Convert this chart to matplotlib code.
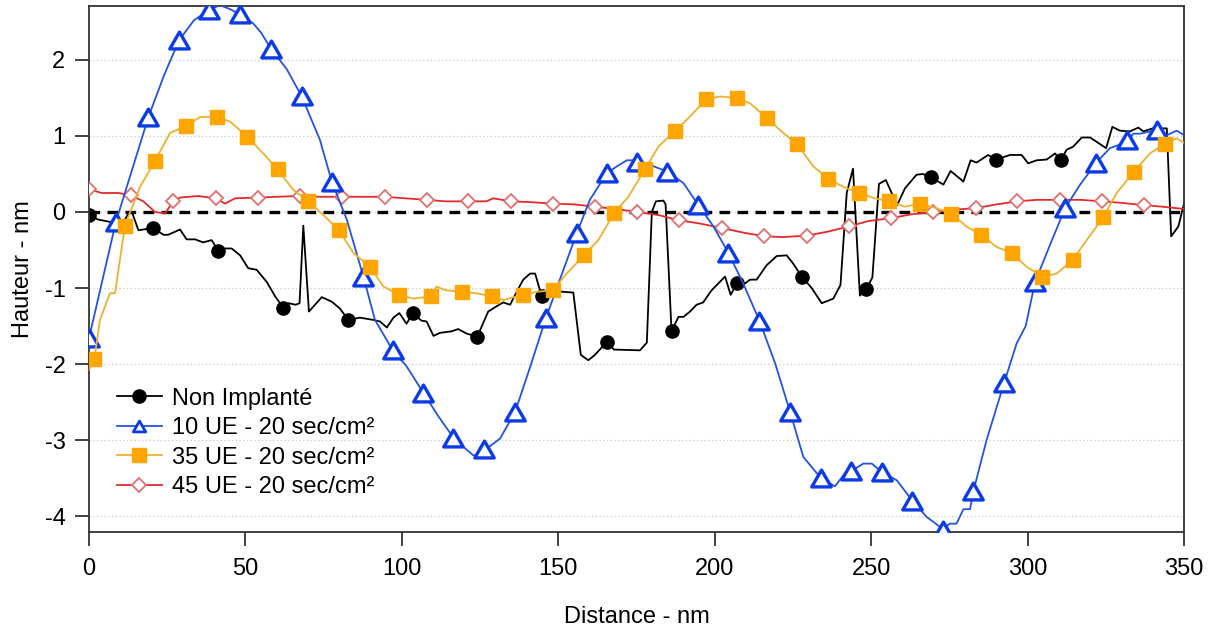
import matplotlib
matplotlib.use("Agg")
import matplotlib.pyplot as plt
from matplotlib.lines import Line2D
from matplotlib.path import Path

plt.rcParams['font.family'] = ['Liberation Sans', 'DejaVu Sans']

# ---------------- data ----------------
black_x = [0, 3.0, 6.7, 10.5, 12.6, 13.8, 15.8, 20.6, 23.8, 25.3, 29.1, 31.2, 33.9, 36.5, 39.2,
           41.3, 43.5, 45.6, 48.3, 50.9, 53.6, 56.8, 59.5, 62.1, 63.7, 66.1, 67.3, 68.5, 70.3,
           74.4, 77.6, 80.2, 82.9, 86.6, 90.9, 93.0, 95.2, 97.3, 99.2, 101.5, 103.5, 106.3,
           107.9, 110.1, 112.2, 115.9, 118.0, 120.7, 124.1, 127.6, 130.3, 132.4, 134.6, 136.7,
           138.8, 141.0, 142.6, 144.7, 146.8, 151.6, 154.8, 157.2, 159.6, 161.7, 165.5, 167.8,
           176.1, 178.3, 179.9, 181.2, 183.6, 184.3, 186.2, 188.4, 190.0, 192.1, 194.2, 196.3,
           199.0, 203.3, 205.1, 207.0, 209.7, 211.3, 213.4, 216.6, 219.8, 223.0, 225.1, 227.8,
           231.0, 234.2, 237.9, 240.2, 242.2, 244.2, 246.4, 248.5, 250.4, 252.5, 254.7, 258.3,
           260.8, 264.5, 266.5, 269.1, 273.1, 275.4, 279.5, 281.8, 283.7, 287.4, 289.9, 294.4,
           298.1, 300.2, 302.9, 306.1, 308.8, 310.6, 312.5, 314.6, 317.3, 320.0, 325.1, 327.1,
           329.5, 332.7, 335.4, 337.0, 340.0, 344.5, 345.9, 348.2, 350.0]
black_y = [-0.04, -0.10, -0.13, -0.17, -0.02, -0.01, -0.24, -0.21, -0.30, -0.30, -0.23, -0.36,
           -0.36, -0.40, -0.37, -0.51, -0.48, -0.48, -0.57, -0.74, -0.76, -0.92, -1.11, -1.26,
           -1.20, -1.22, -1.20, -0.18, -1.31, -1.12, -1.18, -1.27, -1.42, -1.39, -1.42, -1.44,
           -1.52, -1.39, -1.33, -1.47, -1.33, -1.43, -1.44, -1.63, -1.59, -1.57, -1.54, -1.60,
           -1.64, -1.31, -1.24, -1.19, -1.22, -1.05, -0.89, -0.81, -0.81, -1.11, -1.03, -1.05,
           -1.06, -1.88, -1.95, -1.88, -1.71, -1.81, -1.82, -1.72, 0.00, 0.14, 0.15, 0.10,
           -1.57, -1.38, -1.38, -1.31, -1.22, -1.19, -1.03, -0.85, -1.09, -0.94, -0.94, -0.89,
           -0.89, -0.70, -0.58, -0.57, -0.68, -0.85, -1.00, -1.20, -1.14, -0.96, 0.25, 0.57,
           -1.10, -1.01, -0.86, 0.37, 0.42, 0.09, 0.31, 0.49, 0.50, 0.46, 0.36, 0.54, 0.40,
           0.68, 0.65, 0.75, 0.69, 0.75, 0.75, 0.64, 0.68, 0.69, 0.77, 0.68, 0.82, 0.86, 0.98,
           0.98, 0.84, 1.12, 1.07, 1.06, 1.11, 1.06, 1.10, 1.10, -0.32, -0.19, 0.11]
black_mk_x = [0, 20.6, 41.3, 62.1, 82.9, 103.5, 124.1, 144.7, 165.5, 186.2, 207.0, 227.8,
              248.5, 269.1, 289.9, 310.6]
black_mk_y = [-0.04, -0.21, -0.51, -1.26, -1.42, -1.33, -1.64, -1.11, -1.71, -1.57, -0.94,
              -0.85, -1.01, 0.46, 0.69, 0.68]

blue_x = [0, 8.6, 19.0, 24.0, 28.8, 33.5, 38.4, 41.9, 45.0, 48.3, 52.5, 55.0, 58.1, 63.2, 68.0,
          73.8, 77.6, 82.4, 87.7, 91.4, 97.1, 101.5, 106.9, 111.7, 116.5, 120.5, 122.8, 124.5,
          126.3, 131.4, 136.2, 141.0, 146.0, 150.5, 155.9, 160.1, 165.5, 168.7, 171.9, 175.1,
          179.3, 184.9, 190.0, 194.8, 199.6, 204.4, 209.1, 214.3, 219.3, 224.1, 228.3, 233.9,
          236.9, 238.4, 241.6, 243.6, 247.5, 250.2, 253.4, 258.2, 263.2, 267.7, 272.9, 275.2,
          277.3, 279.5, 281.6, 282.7, 286.9, 292.5, 296.5, 299.4, 302.4, 307.2, 312.0, 316.8,
          321.8, 326.3, 331.7, 333.8, 336.0, 341.3, 344.5, 347.7, 350.0]
blue_y = [-1.66, -0.13, 1.25, 1.80, 2.26, 2.52, 2.66, 2.72, 2.67, 2.60, 2.48, 2.36, 2.15, 1.88,
          1.52, 0.95, 0.40, -0.10, -0.85, -1.42, -1.82, -2.03, -2.38, -2.69, -2.97, -3.12,
          -3.20, -3.20, -3.14, -2.98, -2.63, -2.04, -1.40, -0.89, -0.28, 0.16, 0.51, 0.60,
          0.68, 0.68, 0.62, 0.53, 0.38, 0.09, -0.19, -0.54, -0.94, -1.43, -1.99, -2.63, -3.22,
          -3.50, -3.57, -3.61, -3.44, -3.41, -3.31, -3.31, -3.42, -3.53, -3.80, -4.01, -4.17,
          -4.10, -4.10, -3.91, -3.91, -3.67, -3.00, -2.25, -1.73, -1.50, -0.92, -0.43, 0.05,
          0.36, 0.64, 0.84, 0.92, 1.03, 1.03, 1.08, 1.01, 1.07, 1.01]
blue_mk_x = [0, 8.6, 19.0, 28.8, 38.4, 48.3, 58.1, 68.0, 77.6, 87.7, 97.1, 106.9, 116.5, 126.3,
             136.2, 146.0, 155.9, 165.5, 175.1, 184.9, 194.8, 204.4, 214.3, 224.1, 233.9, 243.6,
             253.4, 263.2, 272.9, 282.7, 292.5, 302.4, 312.0, 321.8, 331.7, 341.3]
blue_mk_y = [-1.66, -0.13, 1.25, 2.26, 2.66, 2.60, 2.15, 1.52, 0.40, -0.85, -1.82, -2.38, -2.97,
             -3.12, -2.63, -1.40, -0.28, 0.51, 0.66, 0.53, 0.09, -0.54, -1.43, -2.63, -3.50,
             -3.41, -3.42, -3.80, -4.18, -3.67, -2.25, -0.92, 0.05, 0.64, 0.95, 1.08]

orange_x = [0, 1.7, 3.5, 6.7, 8.3, 11.5, 16.3, 21.1, 25.9, 30.9, 35.5, 40.8, 45.1, 50.6, 55.7,
            60.3, 65.3, 70.1, 74.9, 79.9, 84.5, 89.8, 94.1, 99.1, 103.7, 109.2, 111.1, 114.0,
            119.1, 123.9, 128.9, 132.5, 134.0, 138.6, 143.1, 148.2, 152.7, 158.2, 162.8, 167.9,
            172.4, 177.7, 182.0, 187.3, 191.0, 197.2, 201.7, 207.0, 211.3, 216.8, 221.9, 226.2,
            231.5, 236.3, 241.1, 246.1, 251.2, 255.8, 260.8, 265.6, 270.9, 275.5, 280.5, 285.1,
            290.1, 294.9, 299.7, 304.7, 309.3, 314.4, 318.9, 324.2, 328.5, 334.0, 339.1, 343.9,
            347.7, 350.0]
orange_y = [-2.08, -1.94, -1.42, -1.07, -1.07, -0.18, 0.33, 0.67, 1.04, 1.13, 1.25, 1.25, 1.19,
            0.99, 0.77, 0.56, 0.29, 0.14, -0.04, -0.24, -0.54, -0.72, -0.98, -1.09, -1.14,
            -1.11, -0.98, -1.03, -1.05, -1.07, -1.11, -1.16, -1.14, -1.09, -1.05, -1.03, -0.81,
            -0.57, -0.37, -0.01, 0.20, 0.56, 0.86, 1.07, 1.21, 1.48, 1.52, 1.50, 1.43, 1.23,
            1.04, 0.90, 0.60, 0.44, 0.33, 0.25, 0.18, 0.14, 0.07, 0.11, 0.05, -0.02, -0.19,
            -0.30, -0.46, -0.54, -0.72, -0.85, -0.81, -0.63, -0.37, -0.07, 0.25, 0.53, 0.77,
            0.90, 0.97, 0.91]
orange_mk_x = [1.7, 11.5, 21.1, 30.9, 40.8, 50.6, 60.3, 70.1, 79.9, 89.8, 99.1, 109.2, 119.1,
               128.9, 138.6, 148.2, 158.2, 167.9, 177.7, 187.3, 197.2, 207.0, 216.8, 226.2,
               236.3, 246.1, 255.8, 265.6, 275.5, 285.1, 294.9, 304.7, 314.4, 324.2, 334.0, 343.9]
orange_mk_y = [-1.94, -0.18, 0.67, 1.13, 1.25, 0.99, 0.56, 0.14, -0.24, -0.72, -1.09, -1.11,
               -1.05, -1.11, -1.09, -1.03, -0.57, -0.01, 0.56, 1.07, 1.48, 1.50, 1.23, 0.90,
               0.44, 0.25, 0.14, 0.11, -0.02, -0.30, -0.54, -0.85, -0.63, -0.07, 0.53, 0.90]

red_x = [0, 4, 9.4, 13.4, 17.4, 21.1, 24.3, 26.9, 29.1, 34.9, 40.6, 43.5, 46.7, 53.9, 60, 67.4,
         74, 80.8, 88, 94.6, 101, 107.9, 114, 121.2, 127, 129.2, 134.8, 141, 148.2, 155, 161.7,
         168, 175.3, 182, 188.7, 195, 202.2, 209, 215.9, 222, 229.4, 236, 242.9, 249, 256.3,
         263, 269.9, 276, 283.4, 290, 296.7, 303, 310.4, 317, 323.7, 330, 337.2, 343, 350]
red_y = [0.30, 0.25, 0.25, 0.22, 0.14, 0.00, -0.02, 0.14, 0.19, 0.21, 0.18, 0.11, 0.18, 0.19,
         0.20, 0.21, 0.20, 0.20, 0.20, 0.20, 0.18, 0.16, 0.14, 0.14, 0.14, 0.18, 0.14, 0.13,
         0.11, 0.10, 0.07, 0.04, 0.00, -0.04, -0.11, -0.15, -0.21, -0.27, -0.32, -0.33, -0.31,
         -0.26, -0.19, -0.12, -0.08, -0.03, 0.00, 0.03, 0.05, 0.10, 0.14, 0.16, 0.16, 0.16,
         0.14, 0.12, 0.09, 0.07, 0.04]
red_mk_x = [0, 13.4, 26.9, 40.6, 53.9, 67.4, 80.8, 94.6, 107.9, 121.2, 134.8, 148.2, 161.7,
            175.3, 188.7, 202.2, 215.9, 229.4, 242.9, 256.3, 269.9, 283.4, 296.7, 310.4, 323.7,
            337.2]
red_mk_y = [0.30, 0.22, 0.14, 0.18, 0.19, 0.21, 0.20, 0.20, 0.16, 0.14, 0.14, 0.11, 0.07, 0.00,
            -0.11, -0.21, -0.32, -0.31, -0.19, -0.08, 0.00, 0.05, 0.14, 0.16, 0.14, 0.09]

labels = ["Non Implanté", "10 UE - 20 sec/cm²", "35 UE - 20 sec/cm²", "45 UE - 20 sec/cm²"]
x_ticks = [0, 50, 100, 150, 200, 250, 300, 350]
y_ticks = [-4, -3, -2, -1, 0, 1, 2]
x_label = "Distance - nm"
y_label = "Hauteur - nm"

# ---------------- style ----------------
FS = 17
c_black = "black"
c_blue_line, c_blue_mk = "#2454dc", "#0a3be6"
c_orange_line, c_orange_mk = "#eeb030", "#ffa500"
c_red_line, c_red_mk = "#e32a2a", "#e07070"

tri = Path([(-1, -0.866), (1, -0.866), (0, 0.866), (-1, -0.866)], closed=True)

fig = plt.figure(figsize=(12.15, 6.30), dpi=100)
ax = fig.add_axes([89 / 1215, 1 - 532 / 630, (1184 - 89) / 1215, (532 - 6) / 630])

ax.set_xlim(0, 350)
ax.set_ylim(-4.21, 2.71)

for yt in y_ticks:
    ax.axhline(yt, color="#c8c8c8", lw=0.9, ls=(0, (1, 2)), zorder=0.5)
ax.axhline(0, color="black", lw=2.4, dashes=(3.2, 2.2), zorder=1)

ax.plot(black_x, black_y, color=c_black, lw=1.3, zorder=2)
ax.plot(black_mk_x, black_mk_y, ls="none", marker="o", ms=9.5, color=c_black, zorder=2.1)

ax.plot(red_x, red_y, color=c_red_line, lw=1.3, zorder=3)
ax.plot(red_mk_x, red_mk_y, ls="none", marker="D", ms=6.8, mfc="white", mec=c_red_mk,
        mew=1.3, zorder=3.1)

ax.plot(blue_x, blue_y, color=c_blue_line, lw=1.3, zorder=4)
ax.plot(blue_mk_x, blue_mk_y, ls="none", marker=tri, ms=14, mfc="white", mec=c_blue_mk,
        mew=2.4, zorder=4.1)

ax.plot(orange_x, orange_y, color=c_orange_line, lw=1.3, zorder=5)
ax.plot(orange_mk_x, orange_mk_y, ls="none", marker="s", ms=9.5, color=c_orange_mk, zorder=5.1)

# axes styling
for s in ax.spines.values():
    s.set_linewidth(1.3)
    s.set_color("#333333")
ax.set_xticks(x_ticks)
ax.set_yticks(y_ticks)
ax.set_yticklabels([str(v) for v in y_ticks])
ax.tick_params(axis="both", direction="out", length=10, width=1.3, color="#333333",
               labelsize=FS)
ax.tick_params(axis="x", pad=9)
ax.tick_params(axis="y", pad=7)
ax.set_xlabel(x_label, fontsize=FS)
ax.set_ylabel(y_label, fontsize=FS)
ax.xaxis.set_label_coords(0.5, -0.141)
ax.yaxis.set_label_coords(-0.050, 0.5)

handles = [
    Line2D([], [], color=c_black, lw=1.3, marker="o", ms=9.5),
    Line2D([], [], color=c_blue_line, lw=1.3, marker=tri, ms=9, mfc="white",
           mec=c_blue_mk, mew=2.0),
    Line2D([], [], color=c_orange_line, lw=1.3, marker="s", ms=9.5, mfc=c_orange_mk,
           mec=c_orange_mk),
    Line2D([], [], color=c_red_line, lw=1.3, marker="D", ms=6.8, mfc="white",
           mec=c_red_mk, mew=1.3),
]
ax.legend(handles, labels, loc="upper left", bbox_to_anchor=(0.0256, 0.2745),
          frameon=False, fontsize=FS, handlelength=1.9, handletextpad=0.42,
          labelspacing=0.32, borderpad=0, borderaxespad=0)

fig.savefig("out.png", dpi=100)
